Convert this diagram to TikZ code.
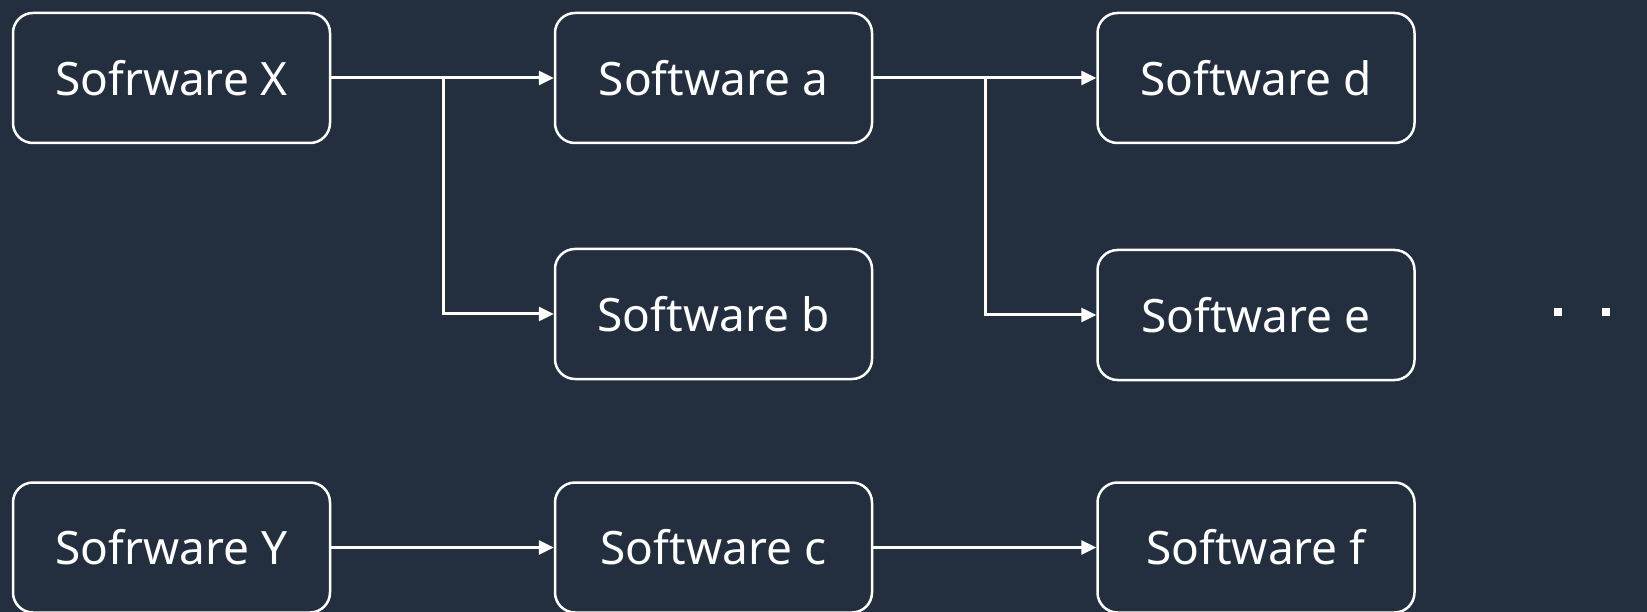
\documentclass[tikz,border=0pt]{standalone}
\usepackage{fontspec}
\setmainfont{Noto Sans}
\usetikzlibrary{arrows.meta}
\definecolor{bg}{HTML}{232F3E}
\begin{document}
\begin{tikzpicture}[x=1pt,y=-1pt,
  swbox/.style={draw=white, line width=2.5pt, rounded corners=20pt,
    minimum width=317pt, minimum height=130pt, inner sep=0pt,
    text=white, font=\fontsize{46}{50}\selectfont},
  arr/.style={draw=white, line width=3pt, -{Triangle[length=15pt,width=14pt]}}]
\fill[bg] (0,0) rectangle (1647,612);
\useasboundingbox (0,0) rectangle (1647,612);
\clip (0,0) rectangle (1647,612);
\node[swbox] (X) at (171.5,78) {Sofrware X};
\node[swbox] (a) at (713.5,78) {Software a};
\node[swbox] (d) at (1256,78) {Software d};
\node[swbox] (b) at (713.5,314) {Software b};
\node[swbox] (e) at (1256,315) {Software e};
\node[swbox] (Y) at (171.5,547.5) {Sofrware Y};
\node[swbox] (c) at (713.5,547.5) {Software c};
\node[swbox] (f) at (1256,547.5) {Software f};
\coordinate (j1) at (443,78);
\coordinate (j2) at (985,78);
\draw[arr] (X.east) -- (a.west);
\draw[arr] (j1) |- (b.west);
\draw[arr] (a.east) -- (d.west);
\draw[arr] (j2) |- (e.west);
\draw[arr] (Y.east) -- (c.west);
\draw[arr] (c.east) -- (f.west);
\fill[white] (1554,308) rectangle (1562,316);
\fill[white] (1602,308) rectangle (1610,316);
\end{tikzpicture}
\end{document}
